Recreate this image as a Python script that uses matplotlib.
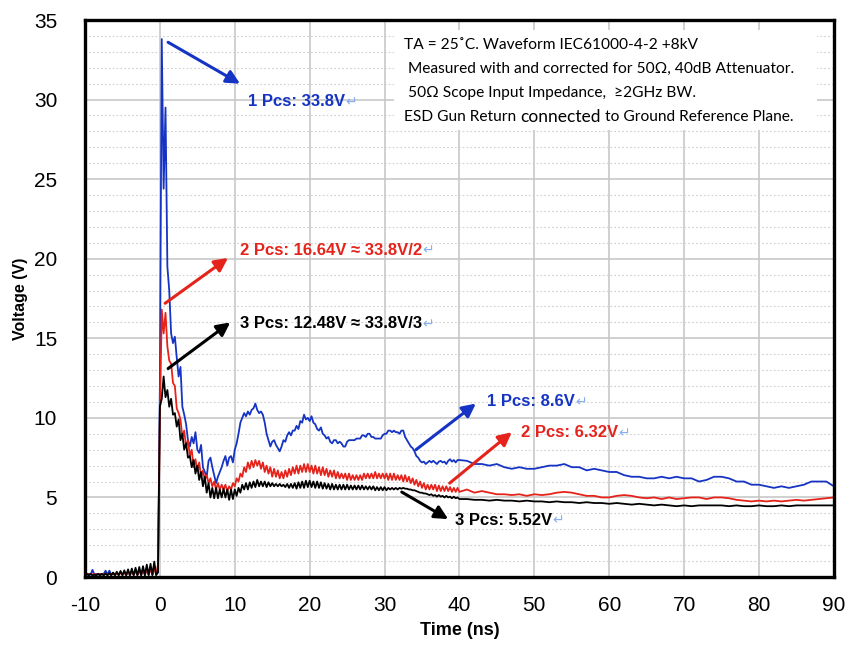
"""ESD clamp waveform: 1/2/3 stacked parts, IEC61000-4-2 +8kV."""
import numpy as np
import matplotlib
matplotlib.use("Agg")
import matplotlib.pyplot as plt
from matplotlib.patches import Rectangle

plt.rcParams["axes.unicode_minus"] = False

BLUE = "#1534c4"
RED = "#e5231b"
BLACK = "#000000"
RET = "#86aef0"

# sample times: 0.25 ns from -10 to 40 ns, 1 ns from 41 to 90 ns
T_FINE = np.round(np.arange(-10.0, 40.001, 0.25), 2)
T_COARSE = np.arange(41.0, 91.0, 1.0)

# ---- 1 Pcs (blue) ----
BLUE_PRE = [0.15, 0.15, 0.2, 0.15, 0.45, 0.15, 0.2, 0.15,
            0.2, 0.15, 0.2, 0.4, 0.15, 0.4, 0.15, 0.25,
            0.15, 0.25, 0.15, 0.3, 0.15, 0.3, 0.15, 0.35,
            0.15, 0.35, 0.15, 0.4, 0.15, 0.45, 0.15, 0.5,
            0.15, 0.55, 0.15, 0.6, 0.15, 0.7, 0.15, 0.3]
BLUE_MAIN = [12.0, 33.8, 24.4, 29.5, 19.5, 18.0, 15.3, 14.7,
             15.1, 13.8, 12.6, 13.2, 10.7, 10.2, 9.6, 8.6,
             8.2, 8.8, 8.4, 9.1, 8.0, 7.8, 8.3, 6.9,
             6.6, 6.3, 7.3, 7.5, 6.9, 6.4, 5.9, 6.3,
             6.6, 6.9, 7.3, 7.6, 7.0, 7.5, 7.6, 7.2,
             8.0, 8.4, 9.0, 9.7, 10.0, 10.3, 10.1, 10.4,
             10.2, 10.5, 10.6, 10.9, 10.5, 10.3, 10.4, 10.2,
             9.7, 9.0, 8.6, 8.2, 8.5, 8.6, 8.3, 8.1,
             7.9, 8.2, 8.6, 8.5, 8.9, 9.1, 8.9, 9.2,
             9.2, 9.5, 9.3, 9.8, 9.7, 10.2, 9.9, 10.0,
             9.8, 10.1, 9.7, 9.6, 9.3, 9.2, 9.4, 9.0,
             8.9, 8.7, 8.8, 8.5, 8.4, 8.6, 8.6, 8.4,
             8.5, 8.4, 8.2, 8.2, 8.5, 8.6, 8.6, 8.6,
             8.6, 8.7, 8.7, 8.7, 8.9, 8.9, 8.8, 9.0,
             9.0, 8.8, 8.8, 8.7, 8.7, 8.7, 8.7, 8.9,
             9.0, 9.0, 9.2, 9.2, 9.1, 9.2, 9.1, 9.1,
             9.0, 9.2, 9.2, 8.8, 8.6, 8.4, 8.2, 8.1,
             7.9, 7.6, 7.5, 7.3, 7.2, 7.25, 7.1, 7.2,
             7.3, 7.2, 7.3, 7.2, 7.1, 7.25, 7.3, 7.2,
             7.25, 7.1, 7.3, 7.4, 7.25, 7.35, 7.2, 7.35,
             7.35]
BLUE_TAIL = [7.3, 7.1, 7.1, 7.0, 7.1, 6.9, 6.8, 6.9, 6.8, 6.8,
             6.9, 7.0, 7.0, 7.1, 6.9, 6.9, 6.7, 6.8, 6.7, 6.6,
             6.6, 6.4, 6.3, 6.3, 6.2, 6.2, 6.3, 6.2, 6.3, 6.2,
             6.2, 6.0, 6.1, 6.3, 6.3, 6.2, 6.0, 6.0, 5.8, 5.8,
             5.7, 5.6, 5.7, 5.6, 5.7, 5.8, 6.0, 6.0, 6.0, 5.7]

# ---- 2 Pcs (red) ----
RED_PRE = [0.15, 0.2, 0.15, 0.2, 0.15, 0.2, 0.15, 0.2,
           0.15, 0.2, 0.15, 0.2, 0.15, 0.2, 0.15, 0.2,
           0.15, 0.25, 0.15, 0.25, 0.15, 0.25, 0.15, 0.3,
           0.15, 0.3, 0.15, 0.35, 0.15, 0.35, 0.15, 0.4,
           0.15, 0.45, 0.15, 0.5, 0.15, 0.6, 0.15, 0.8]
RED_MAIN = [10.0, 16.8, 15.3, 16.6, 14.5, 13.6, 13.4, 12.2,
            12.0, 10.6, 10.3, 9.9, 8.8, 9.2, 8.2, 8.6,
            7.6, 8.0, 6.9, 7.4, 6.7, 7.2, 6.3, 6.7,
            6.1, 6.4, 5.9, 6.2, 5.7, 6.0, 5.5, 5.9,
            5.5, 5.8, 5.5, 5.8, 5.4, 5.7, 5.5, 5.9,
            5.7, 6.2, 6.0, 6.5, 6.3, 6.9, 6.6, 7.2,
            6.8, 7.3, 6.9, 7.35, 7.0, 7.3, 6.8, 7.2,
            6.6, 7.0, 6.5, 6.9, 6.3, 6.8, 6.3, 6.7,
            6.2, 6.6, 6.2, 6.7, 6.3, 6.8, 6.4, 6.9,
            6.5, 7.0, 6.5, 7.0, 6.6, 7.1, 6.6, 7.1,
            6.6, 7.0, 6.5, 7.0, 6.5, 6.9, 6.4, 6.9,
            6.4, 6.8, 6.3, 6.7, 6.3, 6.7, 6.2, 6.6,
            6.2, 6.5, 6.2, 6.5, 6.1, 6.5, 6.1, 6.4,
            6.1, 6.4, 6.1, 6.4, 6.1, 6.5, 6.2, 6.5,
            6.2, 6.5, 6.2, 6.6, 6.2, 6.5, 6.2, 6.5,
            6.2, 6.5, 6.1, 6.5, 6.1, 6.5, 6.1, 6.4,
            6.1, 6.4, 6.0, 6.4, 6.0, 6.3, 5.9, 6.2,
            5.8, 6.1, 5.7, 6.0, 5.6, 5.9, 5.5, 5.8,
            5.5, 5.8, 5.5, 5.8, 5.4, 5.75, 5.4, 5.7,
            5.4, 5.7, 5.4, 5.65, 5.35, 5.6, 5.35, 5.6,
            5.35]
RED_TAIL = [5.5, 5.3, 5.4, 5.3, 5.2, 5.2, 5.15, 5.2, 5.1, 5.2,
            5.15, 5.2, 5.3, 5.35, 5.3, 5.2, 5.1, 5.1, 5.0, 5.0,
            5.1, 5.15, 5.1, 5.0, 4.95, 5.0, 4.9, 5.0, 4.9, 4.95,
            5.0, 5.0, 4.9, 5.0, 5.0, 4.95, 4.85, 4.8, 4.75, 4.8,
            4.75, 4.8, 4.75, 4.8, 4.85, 4.8, 4.85, 4.9, 4.95, 5.0]

# ---- 3 Pcs (black) ----
BLACK_PRE = [0.12, 0.2, 0.1, 0.2, 0.1, 0.15, 0.1, 0.2,
             0.1, 0.2, 0.1, 0.22, 0.1, 0.25, 0.1, 0.28,
             0.1, 0.33, 0.1, 0.38, 0.1, 0.42, 0.1, 0.48,
             0.1, 0.53, 0.1, 0.58, 0.1, 0.63, 0.1, 0.68,
             0.1, 0.78, 0.12, 0.83, 0.12, 0.97, 0.12, 0.3]
BLACK_MAIN = [10.7, 11.2, 12.6, 11.3, 11.75, 10.7, 11.2, 10.2,
              10.3, 9.45, 9.9, 8.6, 9.0, 8.0, 8.4, 7.5,
              7.6, 6.9, 7.35, 6.5, 7.0, 6.1, 6.6, 5.7,
              6.3, 5.3, 5.9, 5.0, 5.6, 4.95, 5.6, 4.95,
              5.5, 5.0, 5.55, 5.0, 5.5, 4.85, 5.5, 4.9,
              5.5, 5.1, 5.6, 5.3, 5.8, 5.5, 5.9, 5.5,
              5.95, 5.6, 6.0, 5.65, 6.1, 5.7, 6.0, 5.7,
              6.0, 5.65, 5.95, 5.7, 5.9, 5.7, 5.85, 5.7,
              5.85, 5.7, 5.8, 5.65, 5.85, 5.6, 5.85, 5.6,
              5.9, 5.55, 5.95, 5.6, 6.0, 5.6, 6.05, 5.65,
              6.05, 5.65, 6.0, 5.6, 6.0, 5.6, 5.95, 5.55,
              5.9, 5.55, 5.85, 5.5, 5.85, 5.5, 5.8, 5.5,
              5.8, 5.5, 5.8, 5.5, 5.8, 5.5, 5.75, 5.5,
              5.75, 5.5, 5.75, 5.5, 5.75, 5.5, 5.7, 5.5,
              5.7, 5.5, 5.7, 5.45, 5.65, 5.45, 5.65, 5.45,
              5.65, 5.45, 5.6, 5.5, 5.6, 5.5, 5.6, 5.5,
              5.6, 5.55, 5.6, 5.55, 5.55, 5.5, 5.5, 5.45,
              5.45, 5.4, 5.35, 5.3, 5.3, 5.25, 5.25, 5.2,
              5.15, 5.2, 5.1, 5.15, 5.05, 5.15, 5.05, 5.1,
              5.0, 5.1, 5.0, 5.05, 4.95, 5.05, 4.95, 5.0,
              4.9]
BLACK_TAIL = [4.9, 4.85, 4.85, 4.8, 4.85, 4.8, 4.8, 4.75, 4.8, 4.75,
              4.75, 4.7, 4.75, 4.7, 4.7, 4.65, 4.7, 4.65, 4.65, 4.6,
              4.65, 4.6, 4.55, 4.6, 4.55, 4.5, 4.55, 4.5, 4.45, 4.5,
              4.45, 4.5, 4.5, 4.5, 4.5, 4.45, 4.5, 4.45, 4.45, 4.5,
              4.45, 4.45, 4.5, 4.45, 4.5, 4.5, 4.5, 4.5, 4.5, 4.5]

NOTE_LINES = ["TA = 25˚C. Waveform IEC61000-4-2 +8kV",
              " Measured with and corrected for 50Ω, 40dB Attenuator.",
              " 50Ω Scope Input Impedance,  ≥2GHz BW."]

# (tail xy, head xy, label, colour)
ARROWS = [((1.1, 33.6), (10.7, 31.0), "1 Pcs: 33.8V", BLUE),
          ((0.7, 17.2), (9.1, 20.05), "2 Pcs: 16.64V ≈ 33.8V/2", RED),
          ((1.1, 13.1), (9.4, 16.0), "3 Pcs: 12.48V ≈ 33.8V/3", BLACK),
          ((34.2, 8.0), (42.2, 10.9), "1 Pcs: 8.6V", BLUE),
          ((38.7, 5.9), (47.0, 9.1), "2 Pcs: 6.32V", RED),
          ((32.3, 5.34), (38.5, 3.64), "3 Pcs: 5.52V", BLACK)]
LABEL_POS = [(11.8, 29.85), (10.7, 20.5), (10.7, 15.9),
             (43.7, 11.0), (48.2, 9.05), (39.4, 3.58)]

t = np.concatenate([T_FINE, T_COARSE])
traces = [(BLUE_PRE + BLUE_MAIN + BLUE_TAIL, BLUE),
          (RED_PRE + RED_MAIN + RED_TAIL, RED),
          (BLACK_PRE + BLACK_MAIN + BLACK_TAIL, BLACK)]

fig = plt.figure(figsize=(8.5, 6.56), dpi=100)
ax = fig.add_axes([0.1, 0.1204, 0.881, 0.8491])

for vals, col in traces:
    ax.plot(t, vals, color=col, lw=1.3, zorder=3)

ax.set_xlim(-10, 90)
ax.set_ylim(0, 35)
ax.set_xticks(np.arange(-10, 91, 10))
ax.set_yticks(np.arange(0, 36, 5))
ax.set_yticks(np.arange(0, 36, 1), minor=True)
ax.grid(which="major", color="#c4c4c4", lw=1.1, zorder=0)
ax.grid(which="minor", axis="y", color="#cfcfcf", ls=(0, (1.5, 2)), lw=0.8, zorder=0)
ax.tick_params(which="both", length=0)
ax.tick_params(axis="x", pad=14)
ax.tick_params(axis="y", pad=20)
sans = ["Liberation Sans", "DejaVu Sans"]
for lab in ax.get_xticklabels() + ax.get_yticklabels():
    lab.set_family(sans)
    lab.set_fontsize(15)
for sp in ax.spines.values():
    sp.set_linewidth(2.4)
    sp.set_zorder(5)

ax.set_xlabel("Time (ns)", fontsize=13, fontweight="bold", family=sans, labelpad=5)
ax.set_ylabel("Voltage (V)", fontsize=11.5, fontweight="bold", family=sans, labelpad=4)

# note box
ax.add_patch(Rectangle((31.3, 28.1), 56.4, 6.3, facecolor="white", edgecolor="none", zorder=2))
note_font = ["Lato", "DejaVu Sans"]
note_y = [33.43, 31.92, 30.41]
for line, y in zip(NOTE_LINES, note_y):
    ax.text(32.6, y, line, fontsize=11.2, family=note_font, va="center", ha="left", zorder=4)
p1 = ax.text(32.6, 28.9, "ESD Gun Return ", fontsize=11.2, family=note_font, va="center", ha="left", zorder=4)
p2 = ax.annotate("connected", xy=(1, 0.5), xycoords=p1, fontsize=12.5, family=note_font,
                 va="center", ha="left", zorder=4)
ax.annotate(" to Ground Reference Plane.", xy=(1, 0.5), xycoords=p2, fontsize=11.2, family=note_font,
            va="center", ha="left", zorder=4)

for (tail, head, label, col), pos in zip(ARROWS, LABEL_POS):
    ax.annotate("", xy=head, xytext=tail,
                arrowprops=dict(arrowstyle="-|>", color=col, lw=2.2, mutation_scale=20,
                                shrinkA=0, shrinkB=0), zorder=4)
    txt = ax.text(pos[0], pos[1], label, color=col, fontsize=12, fontweight="bold",
                  family=sans, va="center", ha="left", zorder=4)
    ax.annotate("↵", xy=(1, 0.5), xycoords=txt, color=RET, fontsize=10,
                family=["DejaVu Sans"], va="center", ha="left", zorder=4)

fig.savefig("out.png", dpi=100)
